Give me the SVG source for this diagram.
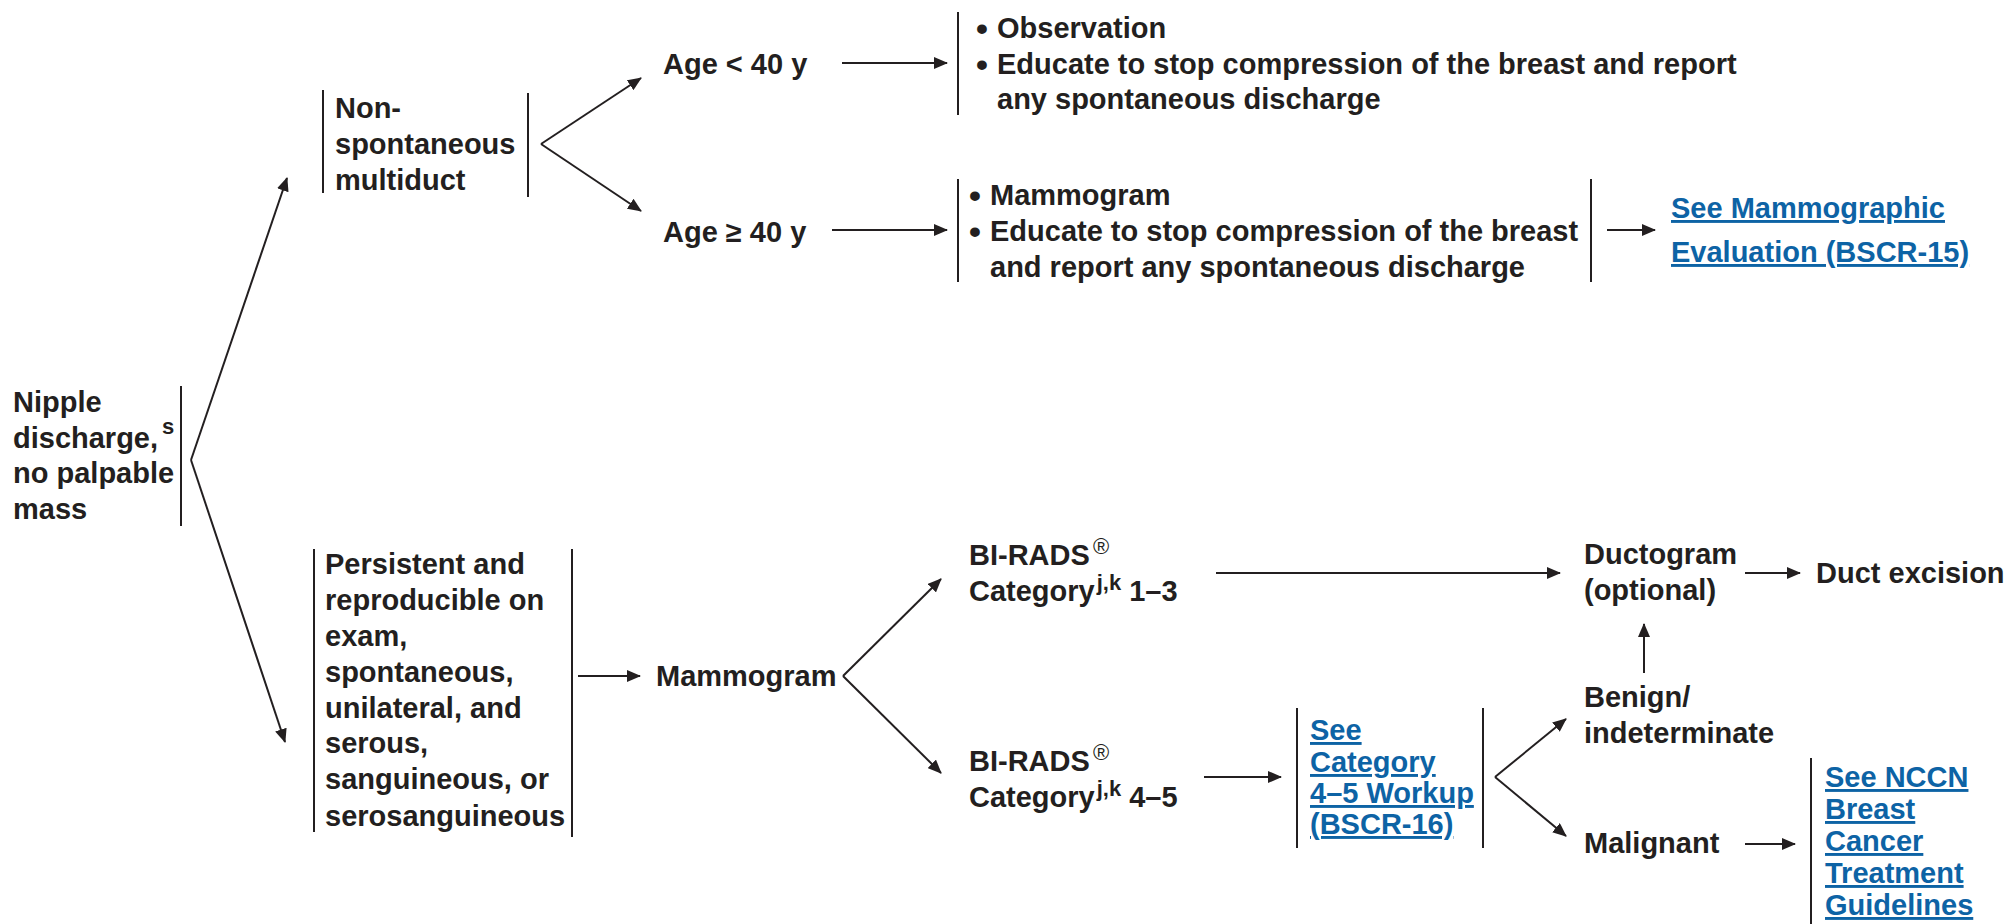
<svg xmlns="http://www.w3.org/2000/svg" width="2007" height="924" viewBox="0 0 2007 924">
<style>
text{font-family:"Liberation Sans",Arial,Helvetica,sans-serif;font-weight:bold;font-size:29px;fill:#231f20}
.lk{fill:#0d63a5;text-decoration:underline}
.sup{font-size:22px}
.reg{font-size:22px;font-weight:normal}
.bul{font-size:34px}
.bar{stroke:#231f20;stroke-width:2;fill:none}
.cn{stroke:#231f20;stroke-width:2;fill:none;marker-end:url(#ah)}
</style>
<defs>
<marker id="ah" markerUnits="userSpaceOnUse" markerWidth="14" markerHeight="12" refX="13" refY="6" orient="auto">
<path d="M0,0 L14,6 L0,12 Z" fill="#231f20"/>
</marker>
</defs>
<rect width="2007" height="924" fill="#fff"/>

<g id="connectors">
<path class="cn" d="M191,460 L287,178"/>
<path class="cn" d="M191,460 L285,742"/>
<path class="cn" d="M541,144 L641,78"/>
<path class="cn" d="M541,144 L641,211"/>
<path class="cn" d="M842,63 L947,63"/>
<path class="cn" d="M832,230 L947,230"/>
<path class="cn" d="M1607,230 L1655,230"/>
<path class="cn" d="M578,676 L640,676"/>
<path class="cn" d="M843,676 L941,579"/>
<path class="cn" d="M843,676 L941,773"/>
<path class="cn" d="M1216,573 L1560,573"/>
<path class="cn" d="M1745,573 L1800,573"/>
<path class="cn" d="M1644,673 L1644,624"/>
<path class="cn" d="M1204,777 L1281,777"/>
<path class="cn" d="M1495,777 L1566,719"/>
<path class="cn" d="M1495,777 L1566,836"/>
<path class="cn" d="M1745,844 L1795,844"/>
</g>

<g id="nipple">
<text x="13" y="412">Nipple</text>
<text x="13" y="448">discharge,<tspan class="sup" x="162" y="434">s</tspan></text>
<text x="13" y="483">no palpable</text>
<text x="13" y="519">mass</text>
<line class="bar" x1="181" y1="386" x2="181" y2="526"/>
</g>

<g id="nonspont">
<line class="bar" x1="323" y1="90" x2="323" y2="193"/>
<line class="bar" x1="528" y1="93" x2="528" y2="197"/>
<text x="335" y="118">Non-</text>
<text x="335" y="154">spontaneous</text>
<text x="335" y="190">multiduct</text>
</g>

<g id="age-lt40"><text x="663" y="74">Age &lt; 40 y</text></g>
<g id="age-ge40"><text x="663" y="242">Age ≥ 40 y</text></g>

<g id="observation">
<line class="bar" x1="958" y1="12" x2="958" y2="115"/>
<text class="bul" x="976" y="40">•</text>
<text x="997" y="38">Observation</text>
<text class="bul" x="976" y="76">•</text>
<text x="997" y="74">Educate to stop compression of the breast and report</text>
<text x="997" y="109">any spontaneous discharge</text>
</g>

<g id="mammo-top">
<line class="bar" x1="958" y1="179" x2="958" y2="282"/>
<line class="bar" x1="1591" y1="179" x2="1591" y2="282"/>
<text class="bul" x="969" y="207">•</text>
<text x="990" y="205">Mammogram</text>
<text class="bul" x="969" y="243">•</text>
<text x="990" y="241">Educate to stop compression of the breast</text>
<text x="990" y="277">and report any spontaneous discharge</text>
</g>

<g id="link-bscr15">
<text class="lk" x="1671" y="218">See Mammographic</text>
<text class="lk" x="1671" y="262">Evaluation (BSCR-15)</text>
</g>

<g id="persistent">
<line class="bar" x1="314" y1="549" x2="314" y2="832"/>
<line class="bar" x1="572" y1="549" x2="572" y2="837"/>
<text x="325" y="574">Persistent and</text>
<text x="325" y="610">reproducible on</text>
<text x="325" y="646">exam,</text>
<text x="325" y="682">spontaneous,</text>
<text x="325" y="718">unilateral, and</text>
<text x="325" y="753">serous,</text>
<text x="325" y="789">sanguineous, or</text>
<text x="325" y="826">serosanguineous</text>
</g>

<g id="mammogram"><text x="656" y="686">Mammogram</text></g>

<g id="birads13">
<text x="969" y="565">BI-RADS<tspan class="reg" x="1093" y="554">®</tspan></text>
<text x="969" y="601">Category<tspan class="sup" dx="2" dy="-11">j,k</tspan><tspan dy="11"> 1–3</tspan></text>
</g>

<g id="birads45">
<text x="969" y="771">BI-RADS<tspan class="reg" x="1093" y="760">®</tspan></text>
<text x="969" y="807">Category<tspan class="sup" dx="2" dy="-11">j,k</tspan><tspan dy="11"> 4–5</tspan></text>
</g>

<g id="ductogram">
<text x="1584" y="564">Ductogram</text>
<text x="1584" y="600">(optional)</text>
</g>

<g id="duct-excision"><text x="1816" y="583">Duct excision</text></g>

<g id="link-bscr16">
<line class="bar" x1="1297" y1="708" x2="1297" y2="848"/>
<line class="bar" x1="1483" y1="708" x2="1483" y2="848"/>
<text class="lk" x="1310" y="740">See</text>
<text class="lk" x="1310" y="772">Category</text>
<text class="lk" x="1310" y="803">4–5 Workup</text>
<text class="lk" x="1310" y="834">(BSCR-16)</text>
</g>

<g id="benign">
<text x="1584" y="707">Benign/</text>
<text x="1584" y="743">indeterminate</text>
</g>

<g id="malignant"><text x="1584" y="853">Malignant</text></g>

<g id="link-nccn">
<line class="bar" x1="1811" y1="758" x2="1811" y2="924"/>
<text class="lk" x="1825" y="787">See NCCN</text>
<text class="lk" x="1825" y="819">Breast</text>
<text class="lk" x="1825" y="851">Cancer</text>
<text class="lk" x="1825" y="883">Treatment</text>
<text class="lk" x="1825" y="915">Guidelines</text>
</g>
</svg>
